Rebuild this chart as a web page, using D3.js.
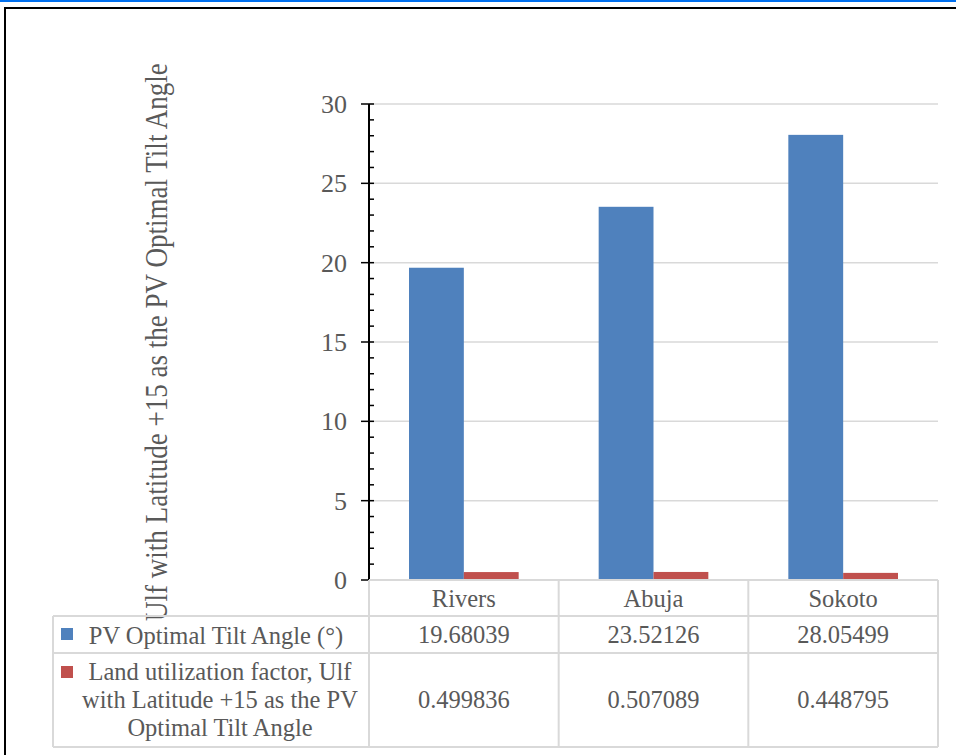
<!DOCTYPE html>
<html>
<head>
<meta charset="utf-8">
<script src="https://cdn.jsdelivr.net/npm/d3@7"></script>
<style>
  body { margin: 0; background: #fff; }
  svg text { font-family: "Liberation Serif", serif; fill: #595959; }
</style>
</head>
<body>
<svg width="956" height="755"></svg>
<script>
// chart data
const cities = ["Rivers", "Abuja", "Sokoto"];
const seriesNames = ["PV Optimal Tilt Angle (°)", "Land utilization factor, Ulf with Latitude +15 as the PV Optimal Tilt Angle"];
const tiltAngle = [19.68039, 23.52126, 28.05499];
const landFactor = [0.499836, 0.507089, 0.448795];
const tiltLabels = ["19.68039", "23.52126", "28.05499"];
const landLabels = ["0.499836", "0.507089", "0.448795"];
const yTicks = [0, 5, 10, 15, 20, 25, 30];
const colors = ["#4f81bd", "#c0504d"];

const svg = d3.select("svg");
const plot = { left: 369, right: 938, top: 104, bottom: 580 };

// page frame (blue rule + black box)
svg.append("rect").attr("x", 0).attr("y", 0).attr("width", 956).attr("height", 2).attr("fill", "#0070f0");
svg.append("rect").attr("x", 5).attr("y", 8).attr("width", 1000).attr("height", 800)
    .attr("fill", "none").attr("stroke", "#000").attr("stroke-width", 2);

// scales
const y = d3.scaleLinear().domain([0, 30]).range([plot.bottom, plot.top]);
const x0 = d3.scaleBand().domain(cities).range([plot.left, plot.right]).paddingInner(0);
const x1 = d3.scaleBand().domain([0, 1]).range([40, x0.bandwidth() - 40]);

// gridlines
svg.append("g").selectAll("line")
    .data(yTicks.filter(d => d > 0))
    .join("line")
    .attr("x1", plot.left).attr("x2", plot.right)
    .attr("y1", d => y(d)).attr("y2", d => y(d))
    .attr("stroke", "#d9d9d9").attr("stroke-width", 1.5);

// bars
const rows = cities.map((c, i) => ({ city: c, vals: [tiltAngle[i], landFactor[i]] }));
svg.append("g").selectAll("g")
    .data(rows)
    .join("g")
    .attr("transform", d => `translate(${x0(d.city)},0)`)
    .selectAll("rect")
    .data(d => d.vals.map((v, k) => ({ k, v })))
    .join("rect")
    .attr("x", d => x1(d.k))
    .attr("width", x1.bandwidth())
    .attr("y", d => y(d.v))
    .attr("height", d => y(0) - y(d.v))
    .attr("fill", d => colors[d.k]);

// y axis: minor ticks on the right, major crossing
const yAxis = svg.append("g");
yAxis.selectAll(".minor")
    .data(d3.range(0, 31))
    .join("line")
    .attr("x1", plot.left).attr("x2", plot.left + 5)
    .attr("y1", d => y(d)).attr("y2", d => y(d))
    .attr("stroke", "#000").attr("stroke-width", 1.5);
yAxis.selectAll(".major")
    .data(yTicks)
    .join("line")
    .attr("x1", plot.left - 8).attr("x2", plot.left)
    .attr("y1", d => y(d)).attr("y2", d => y(d))
    .attr("stroke", "#000").attr("stroke-width", 1.5);
yAxis.append("line")
    .attr("x1", plot.left).attr("x2", plot.left)
    .attr("y1", y(30)).attr("y2", y(0))
    .attr("stroke", "#000").attr("stroke-width", 2);
yAxis.selectAll("text")
    .data(yTicks)
    .join("text")
    .attr("x", plot.left - 22).attr("y", d => y(d) + 9)
    .attr("text-anchor", "end")
    .style("font-size", "26px")
    .text(d => d);

// y axis title (overflows, as in the original)
const title = svg.append("text")
    .attr("text-anchor", "start")
    .style("font-size", "31px")
    .text("Ulf  with Latitude +15 as the PV Optimal Tilt Angle");
const titleLen = title.node().getComputedTextLength();
title.attr("transform", `translate(167,621) rotate(-90) scale(${558 / titleLen},1)`);

// data table
const rowY = [580, 616, 653, 747];
const tableLeft = 53;
const grid = svg.append("g").attr("stroke", "#d9d9d9").attr("stroke-width", 2);
grid.append("line").attr("x1", plot.left).attr("x2", plot.right).attr("y1", rowY[0]).attr("y2", rowY[0]);
rowY.slice(1).forEach(yy => {
    grid.append("line").attr("x1", tableLeft).attr("x2", plot.right).attr("y1", yy).attr("y2", yy);
});
grid.append("line").attr("x1", tableLeft).attr("x2", tableLeft).attr("y1", rowY[1]).attr("y2", rowY[3]);
[plot.left, ...cities.slice(1).map(c => x0(c)), plot.right].forEach(xx => {
    grid.append("line").attr("x1", xx).attr("x2", xx).attr("y1", rowY[0]).attr("y2", rowY[3]);
});

const cellText = (xx, yy, t) => svg.append("text")
    .attr("x", xx).attr("y", yy).attr("text-anchor", "middle")
    .style("font-size", "24.5px").text(t);

cities.forEach((c, i) => {
    const cx = x0(c) + x0.bandwidth() / 2;
    cellText(cx, 607, c);
    cellText(cx, 643, tiltLabels[i]);
    cellText(cx, 708, landLabels[i]);
});

// legend keys in the table
svg.append("rect").attr("x", 61).attr("y", 628).attr("width", 12).attr("height", 12).attr("fill", colors[0]);
svg.append("rect").attr("x", 61).attr("y", 666).attr("width", 12).attr("height", 12).attr("fill", colors[1]);
cellText(216, 644, seriesNames[0]);
const legendLines = ["Land utilization factor, Ulf", "with Latitude +15 as the PV", "Optimal Tilt Angle"];
legendLines.forEach((t, i) => cellText(220, 680 + i * 28, t));
</script>
</body>
</html>
